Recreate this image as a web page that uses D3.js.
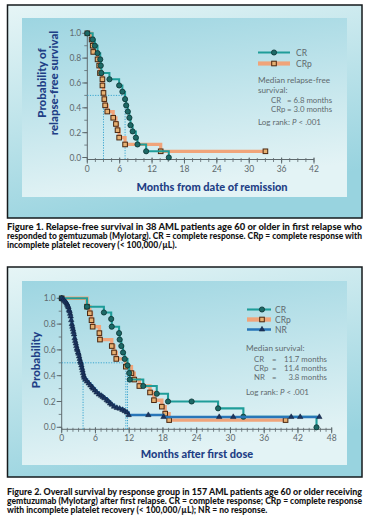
<!DOCTYPE html>
<html><head><meta charset="utf-8">
<script src="https://cdn.jsdelivr.net/npm/d3@7"></script>
<style>body{margin:0;background:#fff}svg{display:block}</style></head>
<body>
<script>
// ---------- Figure 1 data ----------
const fig1XTicks = [0, 6, 12, 18, 24, 30, 36, 42];
const fig1YTicks = [0, 0.2, 0.4, 0.6, 0.8, 1.0];
const fig1CRTime = [1.0, 1.4, 1.9, 2.4, 2.5, 2.6, 4.1, 5.9, 6.5, 7.0, 7.2, 7.5, 7.8, 8.0, 8.4, 9.0, 9.3, 10.9, 15.1];
const fig1CRSurv = [0.95, 0.90, 0.84, 0.79, 0.74, 0.68, 0.63, 0.58, 0.53, 0.47, 0.42, 0.37, 0.32, 0.26, 0.21, 0.16, 0.105, 0.05, 0.0];
const fig1CRpTime = [0.8, 1.0, 1.1, 1.9, 2.2, 2.35, 2.8, 2.8, 3.0, 3.15, 3.3, 3.7, 4.8, 5.3, 5.6, 5.9, 7.0, 13.6, 33.0];
const fig1CRpSurv = [0.95, 0.90, 0.85, 0.79, 0.74, 0.68, 0.63, 0.58, 0.52, 0.47, 0.42, 0.37, 0.32, 0.27, 0.22, 0.16, 0.105, 0.05, 0.05];
const fig1MedianX = [7.0, 3.0];
const fig1Legend = ["CR", "CRp"];
const fig1Stats = [["CR", "= 6.8 months"], ["CRp", "= 3.0 months"]];
const fig1Caption = [
  "Figure 1. Relapse-free survival in 38 AML patients age 60 or older in first relapse who",
  "responded to gemtuzumab (Mylotarg). CR = complete response. CRp = complete response with",
  "incomplete platelet recovery (< 100,000/\u00b5L)."
];

// ---------- Figure 2 data ----------
const fig2XTicks = [0, 6, 12, 18, 24, 30, 36, 42, 48];
const fig2YTicks = [0, 0.2, 0.4, 0.6, 0.8, 1.0];
const fig2CRTime = [4.5, 7.5, 8.8, 8.9, 10.2, 10.3, 10.6, 10.9, 11.2, 11.7, 12.0, 12.1, 14.5, 16.9, 18.9, 23.1, 27.8, 32.3, 45.3];
const fig2CRSurv = [0.935, 0.89, 0.84, 0.78, 0.73, 0.68, 0.63, 0.58, 0.53, 0.48, 0.42, 0.37, 0.32, 0.26, 0.20, 0.20, 0.147, 0.082, 0.0];
const fig2CRpTime = [4.5, 5.0, 5.3, 5.5, 6.7, 6.8, 8.9, 9.3, 9.7, 11.4, 12.4, 12.9, 13.8, 15.7, 16.4, 17.8, 18.4, 19.1, 39.8];
const fig2CRpSurv = [0.935, 0.884, 0.83, 0.78, 0.73, 0.68, 0.63, 0.58, 0.53, 0.47, 0.42, 0.37, 0.32, 0.27, 0.21, 0.16, 0.106, 0.056, 0.056];
const fig2NRTime = [0.3, 0.5, 0.7, 0.9, 1.0, 1.1, 1.2, 1.3, 1.4, 1.5, 1.6, 1.7, 1.8, 1.9, 2.0, 2.1, 2.2, 2.3, 2.4, 2.5,
  2.6, 2.7, 2.8, 2.9, 3.0, 3.1, 3.2, 3.3, 3.4, 3.5, 3.6, 3.7, 3.8, 3.9, 4.0, 4.2, 4.5, 4.8, 5.1, 5.4,
  5.6, 5.9, 6.2, 6.6, 7.0, 7.3, 7.6, 8.0, 8.3, 8.6, 8.9, 9.3, 9.8, 10.3, 10.8, 11.2, 11.6, 11.9, 15.4, 18.1,
  28.0, 30.5, 40.8, 42.4, 45.8];
const fig2NRSurv = [0.99, 0.98, 0.97, 0.96, 0.95, 0.94, 0.93, 0.91, 0.90, 0.88, 0.86, 0.83, 0.80, 0.78, 0.76, 0.74, 0.72, 0.69, 0.67, 0.65,
  0.63, 0.61, 0.60, 0.58, 0.57, 0.55, 0.53, 0.51, 0.50, 0.48, 0.46, 0.44, 0.42, 0.40, 0.385, 0.37, 0.355, 0.34, 0.325, 0.31,
  0.30, 0.285, 0.27, 0.255, 0.245, 0.235, 0.225, 0.21, 0.20, 0.185, 0.175, 0.16, 0.15, 0.145, 0.135, 0.125, 0.115, 0.095, 0.095, 0.08,
  0.08, 0.08, 0.08, 0.08, 0.08];
const fig2MedianX = [11.7, 11.4, 3.8];
const fig2Legend = ["CR", "CRp", "NR"];
const fig2Stats = [["CR", "11.7 months"], ["CRp", "11.4 months"], ["NR", "3.8 months"]];
const fig2Caption = [
  "Figure 2. Overall survival by response group in 157 AML patients age 60 or older receiving",
  "gemtuzumab (Mylotarg) after first relapse. CR = complete response; CRp = complete response",
  "with incomplete platelet recovery (< 100,000/\u00b5L); NR = no response."
];

// ---------- styles ----------
const FONT = "Lato, 'DejaVu Sans', sans-serif";
const NAVY = "#1f3f86";
const GREY = "#5f6a6e";
const styles = {
  CR:  {color: "#1f9d99", width: 2, marker: "circle"},
  CRp: {color: "#f0a47a", width: 3.2, marker: "square"},
  NR:  {color: "#2876b8", width: 2.4, marker: "triangle"}
};

const svg = d3.select("body").append("svg").attr("width", 369).attr("height", 527);
const defs = svg.append("defs");
function grad(id, c0, c1, x2, y2) {
  const g = defs.append("linearGradient").attr("id", id)
    .attr("x1", 0).attr("y1", 0).attr("x2", x2).attr("y2", y2);
  g.append("stop").attr("offset", "0%").attr("stop-color", c0);
  g.append("stop").attr("offset", "100%").attr("stop-color", c1);
}
grad("outerG", "#e6f5f6", "#98d3df", 0.35, 1);
grad("innerG", "#9dd5e1", "#e3f3f5", 0.25, 1);

function panel(y0, y1, iy0, iy1) {
  svg.append("rect").attr("x", 7.5).attr("y", y0).attr("width", 354.5).attr("height", y1 - y0)
    .attr("fill", "url(#outerG)").attr("stroke", "#151a1c").attr("stroke-width", 1.5);
  svg.append("rect").attr("x", 22).attr("y", iy0).attr("width", 325).attr("height", iy1 - iy0)
    .attr("fill", "url(#innerG)");
}

function marker(g, type, cx, cy) {
  if (type === "circle") {
    g.append("circle").attr("cx", cx).attr("cy", cy).attr("r", 2.6)
      .attr("fill", "#1d6966").attr("stroke", "#0c3433").attr("stroke-width", 0.8);
  } else if (type === "square") {
    g.append("rect").attr("x", cx - 2.3).attr("y", cy - 2.3).attr("width", 4.6).attr("height", 4.6)
      .attr("fill", "#e6b071").attr("stroke", "#4a2710").attr("stroke-width", 1);
  } else {
    g.append("path").attr("d", d3.symbol(d3.symbolTriangle, 13)())
      .attr("transform", `translate(${cx},${cy})`)
      .attr("fill", "#1c3560").attr("stroke", "#0f1f3a").attr("stroke-width", 0.5);
  }
}

function txt(g, x, y, t, size, anchor) {
  return g.append("text").attr("x", x).attr("y", y).attr("font-family", FONT).attr("font-size", size || 8)
    .attr("fill", GREY).attr("text-anchor", anchor || "start").text(t);
}

function chart(o) {
  const g = svg.append("g");
  const x = d3.scaleLinear().domain([0, o.xMax]).range(o.xr);
  const y = d3.scaleLinear().domain([0, 1]).range(o.yr);
  const axY = y(0) + 2;
  g.append("line").attr("x1", x(0)).attr("x2", x(o.xMax)).attr("y1", axY).attr("y2", axY)
    .attr("stroke", GREY).attr("stroke-width", 1);
  g.append("line").attr("x1", x(0)).attr("x2", x(0)).attr("y1", y(1)).attr("y2", axY)
    .attr("stroke", GREY).attr("stroke-width", 1);
  g.selectAll(".xm").data(d3.range(0, o.xMax + 0.001, o.xMinor)).enter().append("line")
    .attr("x1", d => x(d)).attr("x2", d => x(d)).attr("y1", axY - 1.5).attr("y2", axY + 2.5)
    .attr("stroke", GREY).attr("stroke-width", 0.8);
  g.selectAll(".xM").data(o.xTicks).enter().append("line")
    .attr("x1", d => x(d)).attr("x2", d => x(d)).attr("y1", axY - 2).attr("y2", axY + 4)
    .attr("stroke", GREY).attr("stroke-width", 1);
  g.selectAll(".xl").data(o.xTicks).enter().append("text")
    .attr("x", d => x(d)).attr("y", axY + 12).attr("text-anchor", "middle")
    .attr("font-family", FONT).attr("font-size", 8.5).attr("fill", GREY).text(d => d);
  g.selectAll(".ym").data(d3.range(0, 1.001, 0.1)).enter().append("line")
    .attr("x1", x(0) - 3).attr("x2", x(0)).attr("y1", d => y(d)).attr("y2", d => y(d))
    .attr("stroke", GREY).attr("stroke-width", 0.8);
  g.selectAll(".yM").data(o.yTicks).enter().append("line")
    .attr("x1", x(0) - 5).attr("x2", x(0)).attr("y1", d => y(d)).attr("y2", d => y(d))
    .attr("stroke", GREY).attr("stroke-width", 1);
  g.selectAll(".yl").data(o.yTicks).enter().append("text")
    .attr("x", x(0) - 6).attr("y", d => y(d) + 3).attr("text-anchor", "end")
    .attr("font-family", FONT).attr("font-size", 8.5).attr("fill", GREY).text(d => d3.format(".1f")(d));
  // median dotted lines
  const dot = {stroke: "#3aa5cf", "stroke-width": 1, "stroke-dasharray": "1.2,1.4"};
  const maxMed = d3.max(o.medians);
  const hl = g.append("line").attr("x1", x(0)).attr("x2", x(maxMed)).attr("y1", y(0.5)).attr("y2", y(0.5));
  Object.entries(dot).forEach(([k, v]) => hl.attr(k, v));
  o.medians.forEach(m => {
    const vl = g.append("line").attr("x1", x(m)).attr("x2", x(m)).attr("y1", y(0.5)).attr("y2", axY);
    Object.entries(dot).forEach(([k, v]) => vl.attr(k, v));
  });
  // curves
  const line = d3.line().x(d => x(d[0])).y(d => y(d[1])).curve(d3.curveStepAfter);
  o.series.forEach(s => {
    const pts = [[0, 1]].concat(s.t.map((t, i) => [t, s.s[i]]));
    const st = styles[s.name];
    g.append("path").attr("d", line(pts)).attr("fill", "none")
      .attr("stroke", st.color).attr("stroke-width", st.width * o.wScale);
    pts.forEach(p => marker(g, st.marker, x(p[0]), y(p[1])));
  });
  // legend
  o.legend.forEach((name, i) => {
    const st = styles[name];
    const ly = o.leg.y + i * o.leg.dy;
    g.append("line").attr("x1", o.leg.x0).attr("x2", o.leg.x1).attr("y1", ly).attr("y2", ly)
      .attr("stroke", st.color).attr("stroke-width", st.width * o.wScale + (name === "CRp" ? 1 : 0));
    marker(g, st.marker, o.leg.mx, ly);
    txt(g, o.leg.tx, ly + 3, name, 8.5);
  });
  o.infoLines.forEach(l => txt(g, l.x, l.y, l.text, 8.2));
  o.stats.forEach((s, i) => {
    const sy = o.statY + i * o.statDy;
    txt(g, o.statX[0], sy, s[0], 7.8);
    if (o.statEq) txt(g, o.statEq, sy, "=", 7.8);
    txt(g, o.statX[1], sy, s[1], 7.8, o.statAnchor);
  });
  const lr = txt(g, o.logRank.x, o.logRank.y, null, 8);
  lr.append("tspan").text("Log rank: ");
  lr.append("tspan").attr("font-style", "italic").text("P");
  lr.append("tspan").text(" < .001");
  // axis titles
  g.append("text").attr("x", o.xTitle.x).attr("y", o.xTitle.y).attr("text-anchor", "middle")
    .attr("font-family", FONT).attr("font-weight", 900).attr("font-size", 11).attr("fill", NAVY)
    .text(o.xTitle.text);
  o.yTitle.lines.forEach((t, i) => {
    g.append("text").attr("transform", `translate(${o.yTitle.xs[i]},${o.yTitle.cy}) rotate(-90)`)
      .attr("text-anchor", "middle").attr("font-family", FONT).attr("font-weight", 900)
      .attr("font-size", o.yTitle.size).attr("fill", NAVY).text(t);
  });
}

function caption(lines, y0, size) {
  lines.forEach((t, i) => {
    const tx = svg.append("text").attr("x", 7).attr("y", y0 + i * 9.2)
      .attr("font-family", FONT).attr("font-weight", 900).attr("font-size", size).attr("fill", "#141414").text(t);
    if (i < lines.length - 1) tx.attr("textLength", 355).attr("lengthAdjust", "spacingAndGlyphs");
  });
}

// ---------- Figure 1 ----------
panel(5, 218, 18, 197);
chart({
  xMax: 42, xr: [87.3, 314], yr: [157.5, 33.3], xTicks: fig1XTicks, yTicks: fig1YTicks, xMinor: 1.5,
  medians: fig1MedianX, wScale: 1,
  series: [{name: "CRp", t: fig1CRpTime, s: fig1CRpSurv}, {name: "CR", t: fig1CRTime, s: fig1CRSurv}],
  legend: fig1Legend, leg: {x0: 258, x1: 290, mx: 274, tx: 296, y: 52.5, dy: 11},
  infoLines: [{x: 258, y: 83, text: "Median relapse-free"}, {x: 258, y: 92.5, text: "survival:"}],
  stats: fig1Stats, statX: [271, 287], statEq: null, statAnchor: "start", statY: 103, statDy: 9,
  logRank: {x: 258, y: 125},
  xTitle: {x: 212, y: 191, text: "Months from date of remission"},
  yTitle: {lines: ["Probability of", "relapse-free survival"], xs: [46, 58], cy: 83, size: 11.5}
});
caption(fig1Caption, 229.5, 8.5);

// ---------- Figure 2 ----------
panel(267, 477, 281, 465);
chart({
  xMax: 48, xr: [61.7, 331.7], yr: [427.3, 298.3], xTicks: fig2XTicks, yTicks: fig2YTicks, xMinor: 1,
  medians: fig2MedianX, wScale: 1.05,
  series: [{name: "CRp", t: fig2CRpTime, s: fig2CRpSurv}, {name: "CR", t: fig2CRTime, s: fig2CRSurv},
           {name: "NR", t: fig2NRTime, s: fig2NRSurv}],
  legend: fig2Legend, leg: {x0: 247, x1: 271, mx: 262, tx: 275, y: 309.5, dy: 10},
  infoLines: [{x: 246, y: 351, text: "Median survival:"}],
  stats: fig2Stats, statX: [254, 327], statEq: 272, statAnchor: "end", statY: 362, statDy: 9,
  logRank: {x: 246, y: 395},
  xTitle: {x: 197, y: 458, text: "Months after first dose"},
  yTitle: {lines: ["Probability"], xs: [40], cy: 360, size: 11.5}
});
caption(fig2Caption, 495, 8.5);
</script>
</body></html>
